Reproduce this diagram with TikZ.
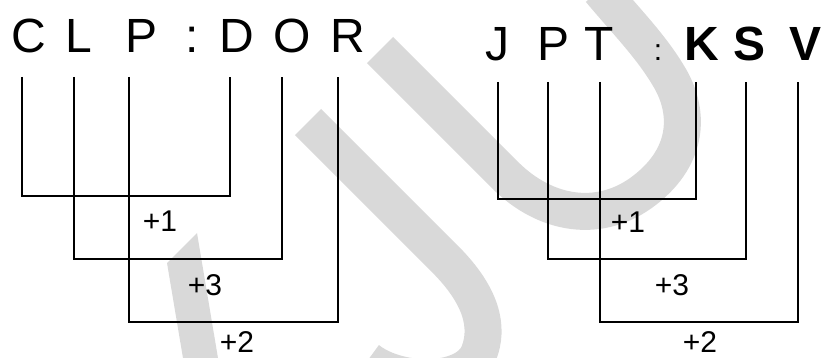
\documentclass[tikz,border=0pt]{standalone}
\usepackage{fontspec}
\setmainfont{Liberation Sans}
\definecolor{wmgray}{HTML}{D9D9D9}
\begin{document}
\begin{tikzpicture}[x=1pt,y=-1pt,
  wm/.style={draw=wmgray, line width=37pt, line cap=butt},
  conn/.style={line width=2.4pt, line join=miter, black},
  letter/.style={inner sep=0pt, anchor=base, font=\fontsize{48}{48}\selectfont},
  bletter/.style={inner sep=0pt, anchor=base, font=\fontsize{48}{48}\selectfont\bfseries},
  smallcolon/.style={inner sep=0pt, anchor=base, font=\fontsize{30}{30}\selectfont},
  lab/.style={inner sep=0pt, anchor=base, font=\fontsize{30}{30}\selectfont}]
\useasboundingbox (0,0) rectangle (825,358);
% watermark
\begin{scope}
\clip (0,0) rectangle (825,358);
\fill[wmgray] (167,263) -- (197,233) -- (220,370) -- (185,370) -- cycle;
\draw[wm] (308,122) -- (445,259) .. controls (475,289) and (490,320) .. (480,350) .. controls (470,385) and (400,385) .. (368,360);
\draw[wm] (380,50) -- (505,175) .. controls (545,215) and (600,225) .. (645,190) .. controls (690,155) and (690,110) .. (668,75) .. controls (650,45) and (625,20) .. (600,-10);
\end{scope}
% left letters
\node[letter] (lC) at (29,53) {C};
\node[letter] (lL) at (79,53) {L};
\node[letter] (lP) at (142,53) {P};
\node[letter] (lcol) at (192,53) {:};
\node[letter] (lD) at (237,53) {D};
\node[letter] (lO) at (292,53) {O};
\node[letter] (lR) at (348,53) {R};
% right letters
\node[letter] (rJ) at (497,61) {J};
\node[letter] (rP) at (554,61) {P};
\node[letter] (rT) at (599,61) {T};
\node[smallcolon] (rcol) at (658,61) {:};
\node[bletter] (rK) at (702,61) {K};
\node[bletter] (rS) at (750,61) {S};
\node[bletter] (rV) at (805,61) {V};
% left connector coordinates
\coordinate (tC) at (22,77);  \coordinate (bC) at (22,196);
\coordinate (tD) at (230,77); \coordinate (bD) at (230,196);
\coordinate (tL) at (74,77);  \coordinate (bL) at (74,259);
\coordinate (tO) at (282,77); \coordinate (bO) at (282,259);
\coordinate (tP) at (129,77); \coordinate (bP) at (129,322);
\coordinate (tR) at (338,77); \coordinate (bR) at (338,322);
\draw[conn] (tC) -- (bC) -- (bD) -- (tD);
\draw[conn] (tL) -- (bL) -- (bO) -- (tO);
\draw[conn] (tP) -- (bP) -- (bR) -- (tR);
% right connector coordinates
\coordinate (tJ) at (498,82);  \coordinate (bJ) at (498,199);
\coordinate (tK) at (696,82);  \coordinate (bK) at (696,199);
\coordinate (tP2) at (548,82); \coordinate (bP2) at (548,259);
\coordinate (tS) at (746,82);  \coordinate (bS) at (746,259);
\coordinate (tT) at (600,82);  \coordinate (bT) at (600,322);
\coordinate (tV) at (798,82);  \coordinate (bV) at (798,322);
\draw[conn] (tJ) -- (bJ) -- (bK) -- (tK);
\draw[conn] (tP2) -- (bP2) -- (bS) -- (tS);
\draw[conn] (tT) -- (bT) -- (bV) -- (tV);
% labels
\node[lab] (l1) at (160,232) {+1};
\node[lab] (l3) at (205,295) {+3};
\node[lab] (l2) at (237,352) {+2};
\node[lab] (r1) at (628,233) {+1};
\node[lab] (r3) at (672,295) {+3};
\node[lab] (r2) at (700,352) {+2};
\end{tikzpicture}
\end{document}
